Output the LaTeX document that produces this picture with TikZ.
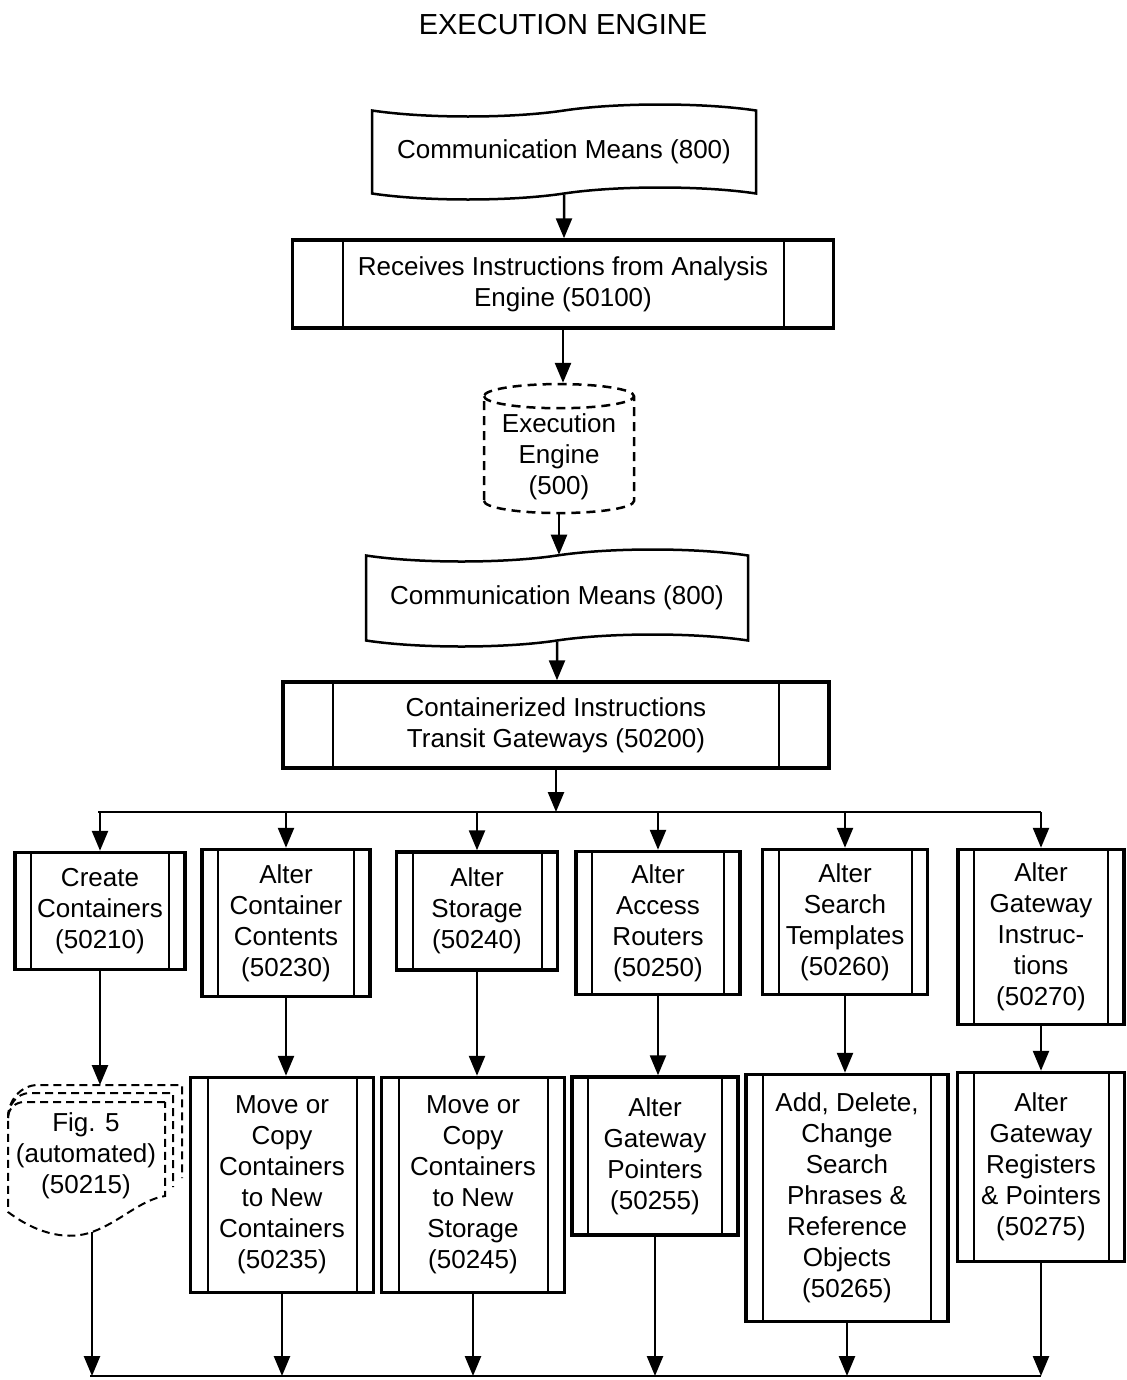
\documentclass[tikz,border=0pt]{standalone}
\usepackage{fontspec}
\setmainfont{Liberation Sans}
\usepackage{tikz}
\usetikzlibrary{arrows.meta,shapes.geometric,shapes.symbols}

\tikzset{
  procbox/.style={draw,rectangle,line width=3.5bp,align=center,inner sep=2bp,
    path picture={
      \draw[line width=2bp] ([xshift=#1]path picture bounding box.north west) -- ([xshift=#1]path picture bounding box.south west);
      \draw[line width=2bp] ([xshift=-#1]path picture bounding box.north east) -- ([xshift=-#1]path picture bounding box.south east);
    }},
  commbox/.style={tape,draw,line width=2.5bp,align=center,tape bend top=in and out,tape bend bottom=in and out,tape bend height=12bp},
  dbbox/.style={cylinder,draw,line width=2.5bp,dash pattern=on 9bp off 6bp,shape border rotate=90,aspect=0.2,align=center},
  dashline/.style={line width=2bp,dash pattern=on 8bp off 5bp},
  link/.style={->,line width=2.5bp}
}

\begin{document}
\begin{tikzpicture}[font=\fontsize{26bp}{31bp}\selectfont,>={Triangle[length=20bp,width=16bp]}]
\useasboundingbox (0bp,0bp) rectangle (1127bp,-1380bp);
\node (title) at (563bp,-25bp) [font=\fontsize{29bp}{34bp}\selectfont] {EXECUTION ENGINE};
% upper chain
\node (cm1) at (564bp,-152bp) [commbox,minimum width=384bp,minimum height=95bp] {Communication Means (800)};
\node (recv) at (563bp,-284bp) [procbox=50bp,minimum width=541bp,minimum height=88bp] {Receives Instructions from Analysis\\Engine (50100)};
\node (eng) at (559bp,-457bp) [dbbox,minimum width=150bp,minimum height=129bp] {Execution\\Engine\\(500)};
\node (cm2) at (557bp,-598bp) [commbox,minimum width=382bp,minimum height=97bp] {Communication Means (800)};
\node (cont) at (556bp,-725bp) [procbox=50bp,minimum width=546bp,minimum height=86bp] {Containerized Instructions\\Transit Gateways (50200)};
\draw [link] (cm1) -- (cm1 |- recv.north);
\draw [link] (recv) -- (recv |- eng.north);
\draw [link] (eng) -- (eng |- cm2.north);
\draw [link] (cm2) -- (cm2 |- cont.north);
% first row
\node (cc) at (100bp,-911bp) [procbox=16bp,minimum width=170bp,minimum height=117bp] {Create\\Containers\\(50210)};
\node (acc) at (286bp,-923bp) [procbox=16bp,minimum width=168bp,minimum height=147bp] {Alter\\Container\\Contents\\(50230)};
\node (ast) at (477bp,-911bp) [procbox=16bp,minimum width=161bp,minimum height=118bp] {Alter\\Storage\\(50240)};
\node (aar) at (658bp,-923bp) [procbox=16bp,minimum width=164bp,minimum height=143bp] {Alter\\Access\\Routers\\(50250)};
\node (aster) at (845bp,-922bp) [procbox=16bp,minimum width=165bp,minimum height=145bp] {Alter\\Search\\Templates\\(50260)};
\node (agi) at (1041bp,-937bp) [procbox=16bp,minimum width=166bp,minimum height=175bp] {Alter\\Gateway\\Instruc-\\tions\\(50270)};
\coordinate (brL) at (98bp,-812bp);
\coordinate (brR) at (1041bp,-812bp);
\draw [line width=2.5bp] (brL) -- (brR);
\draw [link] (cont) -- (cont |- brL);
\draw [link] (cc |- brL) -- (cc);
\draw [link] (acc |- brL) -- (acc);
\draw [link] (ast |- brL) -- (ast);
\draw [link] (aar |- brL) -- (aar);
\draw [link] (aster |- brL) -- (aster);
\draw [link] (agi |- brL) -- (agi);
% second row
\node (fig5) at (86bp,-1156bp) [align=center] {Fig. 5\\(automated)\\(50215)};
\draw [dashline] (165bp,-1102bp) -- (24bp,-1102bp) to[out=180,in=90] (8bp,-1118bp) -- (8bp,-1212bp) .. controls (40bp,-1236bp) and (70bp,-1240bp) .. (92bp,-1232bp) .. controls (120bp,-1222bp) and (140bp,-1200bp) .. (165bp,-1196bp) -- cycle;
\draw [dashline] (8bp,-1118bp) to[out=90,in=180] (30bp,-1093bp) -- (173bp,-1093bp) -- (173bp,-1187bp);
\draw [dashline] (8bp,-1118bp) to[out=90,in=180] (38bp,-1085bp) -- (182bp,-1085bp) -- (182bp,-1178bp);
\coordinate (fig5top) at (100bp,-1085bp);
\coordinate (fig5bot) at (92bp,-1232bp);
\node (mcc) at (282bp,-1185bp) [procbox=17bp,minimum width=183bp,minimum height=215bp] {Move or\\Copy\\Containers\\to New\\Containers\\(50235)};
\node (mcs) at (473bp,-1185bp) [procbox=17bp,minimum width=183bp,minimum height=215bp] {Move or\\Copy\\Containers\\to New\\Storage\\(50245)};
\node (agp) at (655bp,-1156bp) [procbox=16bp,minimum width=166bp,minimum height=158bp] {Alter\\Gateway\\Pointers\\(50255)};
\node (ads) at (847bp,-1198bp) [procbox=17bp,minimum width=202bp,minimum height=247bp] {Add, Delete,\\Change\\Search\\Phrases \&\\Reference\\Objects\\(50265)};
\node (agr) at (1041bp,-1167bp) [procbox=16bp,minimum width=167bp,minimum height=189bp] {Alter\\Gateway\\Registers\\\& Pointers\\(50275)};
\draw [link] (cc) -- (cc |- fig5top);
\draw [link] (acc) -- (acc |- mcc.north);
\draw [link] (ast) -- (ast |- mcs.north);
\draw [link] (aar) -- (aar |- agp.north);
\draw [link] (aster) -- (aster |- ads.north);
\draw [link] (agi) -- (agi |- agr.north);
% bottom collector
\coordinate (bL) at (90bp,-1376bp);
\coordinate (bR) at (1041bp,-1376bp);
\draw [line width=2.5bp] (bL) -- (bR);
\draw [link] (fig5bot) -- (fig5bot |- bL);
\draw [link] (mcc) -- (mcc |- bL);
\draw [link] (mcs) -- (mcs |- bL);
\draw [link] (agp) -- (agp |- bL);
\draw [link] (ads) -- (ads |- bL);
\draw [link] (agr) -- (agr |- bL);
\end{tikzpicture}
\end{document}
